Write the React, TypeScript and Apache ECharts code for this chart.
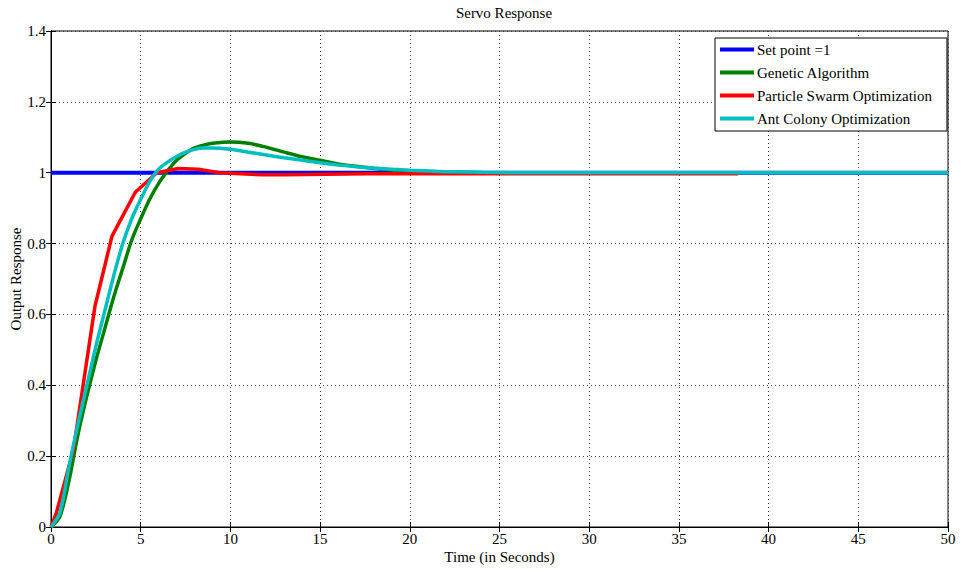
import React, { useEffect, useRef } from "react";
import * as echarts from "echarts";

const setPointT = [0, 50];
const setPointV = [1, 1];

const gaT = [0, 0.5, 1, 1.5, 2, 2.5, 3, 3.5, 4, 4.5, 5, 5.5, 6, 6.5, 7, 7.5, 8, 8.5, 9, 10, 11, 12, 13, 14, 15, 16, 17, 18, 19, 20, 22, 24];
const gaV = [0, 0.03, 0.13, 0.26, 0.37, 0.47, 0.56, 0.65, 0.73, 0.81, 0.87, 0.925, 0.97, 1.005, 1.035, 1.055, 1.07, 1.078, 1.083, 1.087, 1.083, 1.072, 1.058, 1.045, 1.035, 1.025, 1.018, 1.012, 1.008, 1.005, 1.002, 1.0];

const psoT = [0, 0.3, 1.25, 2.45, 3.4, 4.7, 5.9, 7.1, 8.2, 9.4, 10.6, 11.8, 13, 14.1, 15.3, 17.6, 20, 25, 30, 38.3];
const psoV = [0, 0.04, 0.218, 0.623, 0.821, 0.945, 1.0, 1.012, 1.01, 1.0, 0.997, 0.994, 0.994, 0.995, 0.996, 0.997, 0.997, 0.997, 0.997, 0.997];

const acoT = [0, 0.5, 1, 1.5, 2, 2.5, 3, 3.5, 4, 4.5, 5, 5.5, 6, 6.5, 7, 7.5, 8, 8.5, 9, 10, 11, 12, 13, 14, 15, 16, 17, 18, 19, 20, 22, 24, 26, 50];
const acoV = [0, 0.04, 0.17, 0.29, 0.4, 0.51, 0.61, 0.71, 0.8, 0.87, 0.925, 0.975, 1.01, 1.03, 1.046, 1.058, 1.066, 1.07, 1.07, 1.066, 1.058, 1.05, 1.042, 1.035, 1.028, 1.022, 1.017, 1.013, 1.01, 1.007, 1.003, 1.001, 1.0, 1.0];

const xTicks = { min: 0, max: 50, interval: 5 };
const yTicks = { min: 0, max: 1.4, interval: 0.2 };

const pairs = (t: number[], v: number[]) => t.map((x, i) => [x, v[i]]);

const FONT = "'Liberation Serif', 'Times New Roman', serif";

export default function App() {
  const ref = useRef<HTMLDivElement>(null);
  useEffect(() => {
    if (!ref.current) return;
    const chart = echarts.init(ref.current, undefined, { renderer: "svg" });
    const lbl = { color: "#000", fontFamily: FONT, fontSize: 15 };
    const tickIn = { show: true, inside: true, length: 5, lineStyle: { color: "#000" } };
    const split = { show: true, lineStyle: { color: "#444", width: 1, type: [1, 3] as any } };
    chart.setOption({
      animation: false,
      backgroundColor: "#fff",
      title: {
        text: "Servo Response",
        left: 499,
        top: 0,
        textAlign: "center",
        textStyle: { color: "#000", fontFamily: FONT, fontSize: 15, fontWeight: "normal" },
      },
      grid: {
        left: 51,
        right: 15,
        top: 31,
        bottom: 44,
        show: true,
        borderColor: "#000",
        borderWidth: 1,
        backgroundColor: "#fff",
        containLabel: false,
        outerBoundsMode: "none",
      },
      legend: {
        orient: "vertical",
        left: 715,
        top: 38,
        backgroundColor: "#fff",
        borderColor: "#000",
        borderWidth: 1,
        padding: [4, 15, 5, 5],
        itemGap: 8,
        itemWidth: 34,
        itemHeight: 4,
        icon: "rect",
        textStyle: { color: "#000", fontFamily: FONT, fontSize: 15, padding: [0, 0, 0, -2] },
        data: ["Set point =1", "Genetic Algorithm", "Particle Swarm Optimization", "Ant Colony Optimization"],
      },
      xAxis: [
        {
          type: "value",
          ...xTicks,
          name: "Time (in Seconds)",
          nameLocation: "middle",
          nameGap: 22,
          nameMoveOverlap: false,
          nameTextStyle: { ...lbl },
          axisLine: { show: true, onZero: false, lineStyle: { color: "#000" } },
          axisTick: tickIn,
          axisLabel: { ...lbl, margin: 4 },
          splitLine: split,
        },
        {
          type: "value",
          ...xTicks,
          position: "top",
          axisLine: { show: true, lineStyle: { color: "#000" } },
          axisTick: tickIn,
          axisLabel: { show: false },
          splitLine: { show: false },
        },
      ],
      yAxis: [
        {
          type: "value",
          ...yTicks,
          name: "Output Response",
          nameLocation: "middle",
          nameGap: 28,
          nameMoveOverlap: false,
          nameTextStyle: { ...lbl },
          axisLine: { show: true, onZero: false, lineStyle: { color: "#000" } },
          axisTick: tickIn,
          axisLabel: { ...lbl, margin: 5 },
          splitLine: split,
        },
        {
          type: "value",
          ...yTicks,
          position: "right",
          axisLine: { show: true, lineStyle: { color: "#000" } },
          axisTick: tickIn,
          axisLabel: { show: false },
          splitLine: { show: false },
        },
      ],
      series: [
        {
          name: "Set point =1",
          type: "line",
          data: pairs(setPointT, setPointV),
          showSymbol: false,
          itemStyle: { color: "#0000ff" },
          lineStyle: { color: "#0000ff", width: 4 },
        },
        {
          name: "Genetic Algorithm",
          type: "line",
          data: pairs(gaT, gaV),
          smooth: 0.3,
          showSymbol: false,
          itemStyle: { color: "#007f00" },
          lineStyle: { color: "#007f00", width: 3.5 },
        },
        {
          name: "Particle Swarm Optimization",
          type: "line",
          data: pairs(psoT, psoV),
          showSymbol: false,
          itemStyle: { color: "#ff0000" },
          lineStyle: { color: "#ff0000", width: 3.5 },
        },
        {
          name: "Ant Colony Optimization",
          type: "line",
          data: pairs(acoT, acoV),
          smooth: 0.3,
          showSymbol: false,
          itemStyle: { color: "#00bfbf" },
          lineStyle: { color: "#00bfbf", width: 3.5 },
        },
      ],
    });
    return () => chart.dispose();
  }, []);
  return <div ref={ref} style={{ position: "fixed", left: 0, top: 0, width: 963, height: 571 }} />;
}
